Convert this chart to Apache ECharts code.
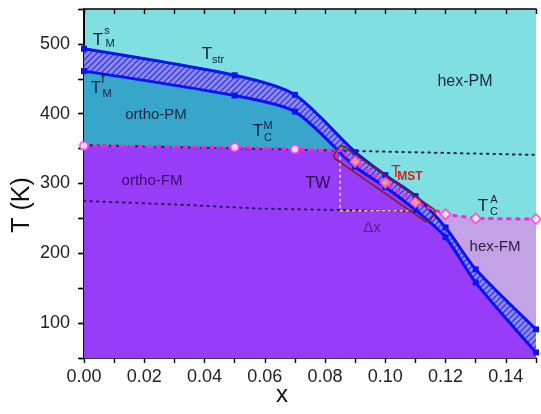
<!DOCTYPE html>
<html><head><meta charset="utf-8">
<script src="https://cdn.jsdelivr.net/npm/echarts@6/dist/echarts.min.js"></script>
<style>html,body{margin:0;padding:0;background:#fff}#c{width:541px;height:414px}</style>
</head><body><div id="c"></div>
<script>
// ---- data ----
const xs   = [0, 0.05, 0.07, 0.09, 0.10, 0.11, 0.12, 0.13, 0.15];
const tMs  = [493, 455, 427, 345, 312, 282, 237, 177, 91];   // T_M^s (upper, T_str)
const tMf  = [461, 426, 403, 324, 295, 262, 223, 158, 58];   // T_M^f (lower)
const tcMx = [0, 0.05, 0.07, 0.085];
const tcMT = [354, 352, 349, 347];                            // T_C^M
const mstX = [0.09, 0.10, 0.11];
const mstT = [331, 301, 273];                                 // T_MST
const tcAx = [0.12, 0.13, 0.15];
const tcAT = [256, 250, 249];                                 // T_C^A
const guideUpX = [0, 0.15];
const guideUpT = [355, 341];
const guideLoX = [0, 0.03, 0.06, 0.085, 0.11];
const guideLoT = [275, 270, 264, 262, 260];
const twX = [0.085, 0.085, 0.11];
const twT = [347, 261, 261];
const boxX = [0.0825, 0.0852, 0.1169, 0.1141];
const boxT = [338, 356, 261, 239];
const xCross = 0.085;

const pair = (a, b) => a.map((v, i) => [v, b[i]]);
const pinkX = tcMx.concat(mstX, tcAx);
const pinkT = tcMT.concat(mstT, tcAT);
const lavX = [mstX[2]].concat(tcAx);
const lavT = [mstT[2]].concat(tcAT);

// hatch pattern
const pc = document.createElement('canvas');
pc.width = 6; pc.height = 6;
const g = pc.getContext('2d');
g.fillStyle = '#8a8af0'; g.fillRect(0, 0, 6, 6);
g.strokeStyle = '#3a3ada'; g.lineWidth = 1.3;
g.beginPath();
g.moveTo(-1, 7); g.lineTo(7, -1);
g.moveTo(-4, 4); g.lineTo(4, -4);
g.moveTo(2, 10); g.lineTo(10, 2);
g.stroke();

const chart = echarts.init(document.getElementById('c'), null, {renderer: 'canvas'});
const FONT = '"Liberation Sans", Arial, sans-serif';
const lineCol = '#0a14f0';
const SM = 0.25;

function txt(x, y, s, size, color, extra) {
  return Object.assign({type: 'text', x: x, y: y, z: 100,
    style: Object.assign({text: s, font: size + 'px ' + FONT, fill: color, align: 'center', verticalAlign: 'middle'}, extra || {})});
}

const labels = [
  txt(98, 40, 'T', 17, '#10203a'), txt(107, 31, 's', 11, '#10203a'), txt(110, 44, 'M', 11, '#10203a'),
  txt(207, 54, 'T', 17, '#10203a'), txt(218, 60, 'str', 11, '#10203a'),
  txt(96, 88, 'T', 17, '#10203a'), txt(103, 80, 'f', 12, '#10203a'), txt(107, 94, 'M', 11, '#10203a'),
  txt(156, 115, 'ortho-PM', 15, '#0e2a44'),
  txt(258, 131, 'T', 17, '#10203a'), txt(268, 126, 'M', 11, '#10203a'), txt(268, 138, 'C', 11, '#10203a'),
  txt(465, 82, 'hex-PM', 16, '#1a2a3a'),
  txt(152, 181, 'ortho-FM', 15, '#3a0a66'),
  txt(318, 184, 'TW', 16, '#2a0a50'),
  txt(396, 173, 'T', 16, '#d81e1e'), txt(410, 177, 'MST', 10, '#d81e1e', {fontWeight: 'bold'}),
  txt(483, 206, 'T', 17, '#10203a'), txt(494, 200, 'A', 11, '#10203a'), txt(494, 212, 'C', 11, '#10203a'),
  txt(372, 228, 'Δx', 15, '#5a2090'),
  txt(495, 247, 'hex-FM', 15, '#2a2040'),
  txt(282, 395, 'x', 24, '#111'),
  Object.assign(txt(22, 205, 'T (K)', 25, '#111'), {rotation: Math.PI / 2})
];

const axisLine = {show: true, lineStyle: {color: '#000', width: 1.6}};
const option = {
  backgroundColor: '#fff',
  animation: false,
  grid: {left: 84, right: 5, top: 9, bottom: 56, show: true, backgroundColor: '#80dfe0', borderWidth: 0},
  xAxis: [
    {type: 'value', min: 0, max: 0.15, interval: 0.01, position: 'bottom',
     axisLine: axisLine, splitLine: {show: false},
     axisTick: {show: true, inside: false, length: 5, lineStyle: {color: '#000', width: 1.4}},
     axisLabel: {margin: 10, fontSize: 18, color: '#222', fontFamily: FONT,
       formatter: v => (Math.round(v * 100) % 2 === 0 ? v.toFixed(2) : '')}},
    {type: 'value', min: 0, max: 0.15, interval: 0.01, position: 'top',
     axisLine: axisLine, splitLine: {show: false},
     axisTick: {show: true, inside: true, length: 5, lineStyle: {color: '#000', width: 1.4}},
     axisLabel: {show: false}}
  ],
  yAxis: [
    {type: 'value', min: 50, max: 550, interval: 50, position: 'left',
     axisLine: axisLine, splitLine: {show: false},
     axisTick: {show: true, inside: false, length: 6, lineStyle: {color: '#000', width: 1.4}},
     axisLabel: {margin: 14, fontSize: 18, color: '#222', fontFamily: FONT,
       formatter: v => (v % 100 === 0 ? String(v) : '')}},
    {type: 'value', min: 50, max: 550, interval: 50, position: 'right',
     axisLine: axisLine, splitLine: {show: false},
     axisTick: {show: true, inside: true, length: 5, lineStyle: {color: '#000', width: 1.4}},
     axisLabel: {show: false}}
  ],
  series: [
    // hex-FM region
    {type: 'line', data: pair(lavX, lavT), symbol: 'none', lineStyle: {width: 0},
     areaStyle: {origin: 'start', color: '#c4a2e6', opacity: 1}, z: 1},
    // hatched band (under upper curve)
    {type: 'line', data: pair(xs, tMs), smooth: SM, symbol: 'none', lineStyle: {width: 0},
     areaStyle: {origin: 'start', color: {image: pc, repeat: 'repeat'}, opacity: 1}, z: 2},
    // ortho-PM / FM under lower curve
    {type: 'line', data: pair(xs, tMf), smooth: SM, symbol: 'none', lineStyle: {width: 0},
     areaStyle: {origin: 'start', opacity: 1, color: {type: 'linear', x: 0, y: 0, x2: 1, y2: 0, colorStops: [
       {offset: 0, color: '#38a6ca'}, {offset: xCross / 0.15, color: '#38a6ca'},
       {offset: xCross / 0.15, color: '#973cf8'}, {offset: 1, color: '#973cf8'}]}}, z: 3},
    // ortho-FM under T_C^M
    {type: 'line', data: pair(tcMx, tcMT), symbol: 'none', lineStyle: {width: 0},
     areaStyle: {origin: 'start', color: '#973cf8', opacity: 1}, z: 4},
    // guide dotted lines
    {type: 'line', data: pair(guideUpX, guideUpT), symbol: 'none', z: 5,
     lineStyle: {color: '#1c2450', width: 2, type: [1.5, 5], cap: 'round'}},
    {type: 'line', data: pair(guideLoX, guideLoT), symbol: 'none', z: 5, smooth: 0.2,
     lineStyle: {color: '#2a1a5a', width: 2, type: [1.5, 5], cap: 'round'}},
    {type: 'line', data: pair(twX, twT), symbol: 'none', z: 6,
     lineStyle: {color: '#f3c98a', width: 1.6, type: [3, 3]}},
    // band outlines
    {type: 'line', data: pair(xs, tMs), smooth: SM, z: 7, symbol: 'rect', symbolSize: 6,
     itemStyle: {color: lineCol}, lineStyle: {color: lineCol, width: 3}},
    {type: 'line', data: pair(xs, tMf), smooth: SM, z: 7, symbol: 'rect', symbolSize: 6,
     itemStyle: {color: lineCol}, lineStyle: {color: lineCol, width: 3}},
    // pink transition line
    {type: 'line', data: pair(pinkX, pinkT), symbol: 'none', z: 8,
     lineStyle: {color: '#ff24d8', width: 3, type: [5, 4]}},
    {type: 'scatter', data: pair(tcMx.slice(0, 3), tcMT.slice(0, 3)), symbol: 'circle', symbolSize: 8, z: 9,
     itemStyle: {color: '#fff', borderColor: '#ff40e0', borderWidth: 2}},
    {type: 'scatter', data: pair(mstX, mstT), symbol: 'diamond', symbolSize: 10, z: 9,
     itemStyle: {color: '#ffb08a', borderColor: '#ff50d0', borderWidth: 2}},
    {type: 'scatter', data: pair(tcAx, tcAT), symbol: 'diamond', symbolSize: 10, z: 9,
     itemStyle: {color: '#fff', borderColor: '#ff40e0', borderWidth: 2}},
    // T_MST box
    {type: 'custom', z: 10, clip: false, data: [[0.1, 300]],
     renderItem: function (params, api) {
       const p = boxX.map((x, i) => api.coord([x, boxT[i]]));
       const cx = (p[0][0] + p[2][0]) / 2, cy = (p[0][1] + p[2][1]) / 2;
       const L = Math.hypot(p[2][0] - p[1][0], p[2][1] - p[1][1]);
       const W = Math.hypot(p[1][0] - p[0][0], p[1][1] - p[0][1]);
       const ang = Math.atan2(p[2][1] - p[1][1], p[2][0] - p[1][0]);
       return {type: 'rect', x: cx, y: cy, rotation: -ang,
         shape: {x: -L / 2, y: -W / 2, width: L, height: W, r: 4},
         style: {fill: null, stroke: '#8b1a1a', lineWidth: 1.6}};
     }}
  ],
  graphic: {elements: labels}
};
chart.setOption(option);
</script></body></html>
